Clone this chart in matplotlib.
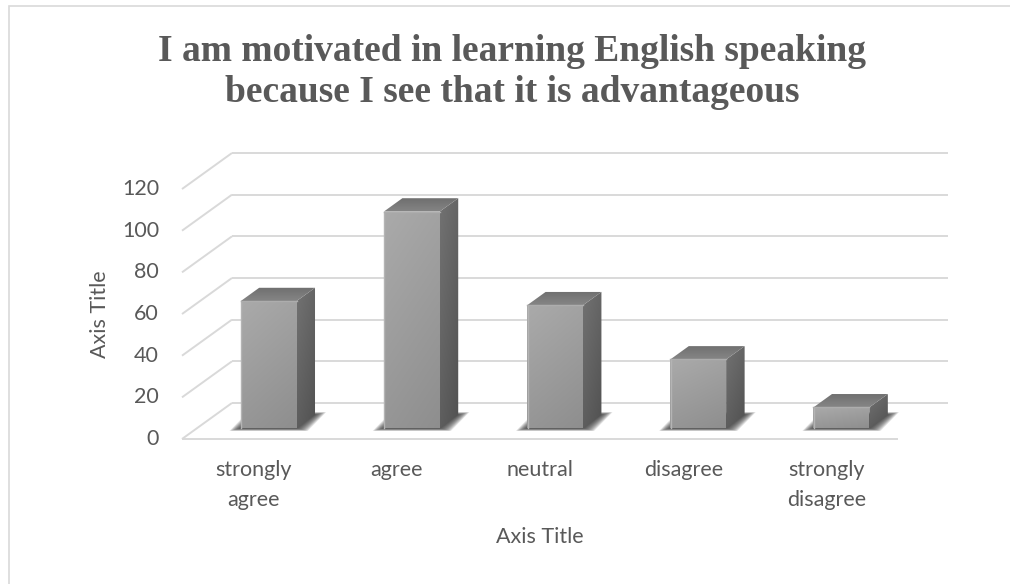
import numpy as np
import matplotlib.pyplot as plt
from matplotlib.patches import Polygon, Rectangle
from matplotlib import transforms
from matplotlib.colors import to_rgb

categories = ['strongly\nagree', 'agree', 'neutral', 'disagree', 'strongly\ndisagree']
counts = [61, 104, 59, 33, 10]
yticks = [0, 20, 40, 60, 80, 100, 120]
title_lines = ['I am motivated in learning English speaking',
               'because I see that it is advantageous']

W, H = 1010, 584
fig = plt.figure(figsize=(W / 100, H / 100), dpi=100)

# plot box in pixels: front floor edge at bottom, back wall top at top
left, right, bottom, top = 182, 948, 439, 153
ax = fig.add_axes([left / W, 1 - bottom / H, (right - left) / W, (bottom - top) / H])
DX = 0.349   # depth shift along x (category units)
DY = 17.3    # depth shift along y (value units)
ax.set_xlim(-0.5, 4.5 + DX)
ax.set_ylim(0, 120 + DY)
ax.axis('off')

text_c = '#595959'
grid_c = '#d9d9d9'
sans = 'Lato'

# back wall, side wall and floor edge
for v in yticks:
    ax.plot([-0.5 + DX, 4.5 + DX], [v + DY, v + DY], color=grid_c, lw=1.4,
            zorder=1, clip_on=False, solid_capstyle='butt')
    ax.plot([-0.5, -0.5 + DX], [v, v + DY], color=grid_c, lw=1.4,
            zorder=1, clip_on=False, solid_capstyle='butt')
ax.plot([-0.5, 4.5], [0, 0], color=grid_c, lw=1.4, zorder=1, clip_on=False,
        solid_capstyle='butt')


def shade(c1, c2, n=60, m=24, side=0.0):
    a, b = np.array(to_rgb(c1)), np.array(to_rgb(c2))
    t = np.linspace(0, 1, n)[:, None, None]
    img = a + (b - a) * t
    img = np.repeat(img, m, axis=1)
    if side:
        s = np.linspace(0, 1, m)[None, :, None]
        img = img - side * s
    return np.clip(img, 0, 1)


def face(poly_xy, img, z):
    p = Polygon(poly_xy, closed=True, facecolor='none', edgecolor='none', zorder=z)
    ax.add_patch(p)
    xs = [q[0] for q in poly_xy]
    ys = [q[1] for q in poly_xy]
    im = ax.imshow(img, extent=[min(xs), max(xs), min(ys), max(ys)],
                   aspect='auto', origin='upper', zorder=z, interpolation='bilinear')
    im.set_clip_path(p)


bw = 0.39
f0, f1 = 0.30, 0.67
ddx, ddy = (f1 - f0) * DX, (f1 - f0) * DY

for i, v in enumerate(counts):
    x0 = i - bw / 2 + f0 * DX
    y0 = f0 * DY

    # soft floor shadow
    for k in range(12, 0, -1):
        e = 0.0065 * k
        ey = 0.11 * k
        ax.add_patch(Polygon([(x0 - e, y0 - ey), (x0 + bw + e, y0 - ey),
                              (x0 + bw + ddx + e, y0 + ddy + ey),
                              (x0 + ddx - e, y0 + ddy + ey)],
                             closed=True, facecolor='#333333', edgecolor='none',
                             alpha=0.12, zorder=2))

    front = [(x0, y0), (x0 + bw, y0), (x0 + bw, y0 + v), (x0, y0 + v)]
    side = [(x0 + bw, y0), (x0 + bw + ddx, y0 + ddy),
            (x0 + bw + ddx, y0 + v + ddy), (x0 + bw, y0 + v)]
    topf = [(x0, y0 + v), (x0 + bw, y0 + v),
            (x0 + bw + ddx, y0 + v + ddy), (x0 + ddx, y0 + v + ddy)]

    face(front, shade('#aaaaaa', '#969696', side=0.03), 3)
    face(side, shade('#727272', '#5e5e5e', side=0.05), 3)
    face(topf, shade('#6f6f6f', '#858585'), 3)
    ax.plot([x0 + 0.004, x0 + 0.004], [y0, y0 + v], color='#b4b4b4', lw=1.0,
            zorder=4, clip_on=False)
    ax.plot([x0, x0 + bw], [y0 + v, y0 + v], color='#adadad', lw=1.0,
            zorder=4, clip_on=False)

ax.set_xlim(-0.5, 4.5 + DX)
ax.set_ylim(0, 120 + DY)

# value labels along the front of the side wall
lab_tr = transforms.offset_copy(ax.transData, fig=fig, x=-23, y=0, units='dots')
for v in yticks:
    ax.text(-0.5, v, str(v), transform=lab_tr, ha='right', va='center',
            fontsize=15.5, color=text_c, family=sans)

# category labels under the floor
for i, lab in enumerate(categories):
    for j, line in enumerate(lab.split('\n')):
        tr = transforms.offset_copy(ax.transData, fig=fig, x=0, y=-37 - 29.5 * j,
                                    units='dots')
        ax.text(i, 0, line, transform=tr, ha='center', va='baseline',
                fontsize=15.5, color=text_c, family=sans)

fig.text(539.5 / W, 1 - 537 / H, 'Axis Title', ha='center', va='center',
         fontsize=15.5, color=text_c, family=sans)
fig.text(100 / W, 1 - 314 / H, 'Axis Title', ha='center', va='center',
         rotation=90, fontsize=15.5, color=text_c, family=sans)

for j, line in enumerate(title_lines):
    fig.text(512 / W, 1 - (61 + 41 * j) / H, line, ha='center', va='baseline',
             fontsize=27, fontweight='bold', color=text_c,
             family='Liberation Serif')

# chart area outline
fig.patches.append(Rectangle((9 / W, -0.2), 1.2, 1.2 - 6 / H,
                             transform=fig.transFigure, facecolor='none',
                             edgecolor='#d9d9d9', lw=1.2))

fig.savefig('out.png', dpi=100)
